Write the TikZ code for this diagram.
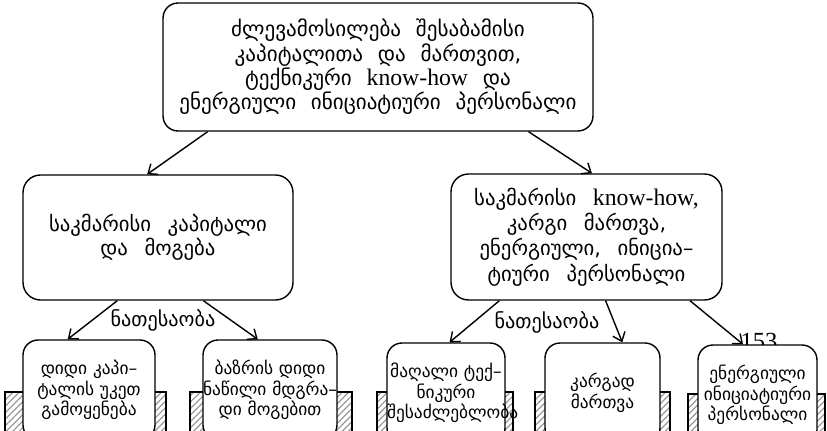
\documentclass[tikz,border=0pt]{standalone}
\usepackage{fontspec}
\setmainfont{Liberation Serif}
\newfontfamily\kafont{DejaVu Sans}
\newcommand\kh[1]{{\rmfamily\fontsize{13.5}{13.5}\selectfont #1}}
\newcommand\widesp[1]{\spaceskip #1em plus 0.1em\relax}
\usetikzlibrary{arrows.meta,calc,patterns.meta}

\begin{document}
\begin{tikzpicture}[x=0.02cm,y=-0.02cm,>={Straight Barb[length=1.6mm,width=2.6mm]},line width=0.8pt,
   block/.style={draw,rounded corners=3.5mm,fill=white,align=center,inner xsep=1pt},
   leaf/.style={block,rounded corners=3mm,minimum height=2cm,inner xsep=0pt,
     font=\kafont\fontsize{9.9}{11.8}\selectfont\widesp{0.4}},
   kin/.style={font=\kafont\fontsize{11.5}{13}\selectfont},
   hatch/.style={draw,line width=0.6pt,pattern={Lines[angle=45,distance=2.6pt,line width=0.7pt]},pattern color=gray!80}]
  \useasboundingbox (0,0) rectangle (827,431);
  \clip (0,0) rectangle (827,431);

  % top goal
  \node[block,rounded corners=3mm,minimum width=8.6cm,minimum height=2.56cm,
        font=\kafont\fontsize{12}{12.6}\selectfont\widesp{0.7}] (goal) at (378,67)
    {ძლევამოსილება შესაბამისი\\კაპიტალითა და მართვით,\\ტექნიკური \kh{know-how} და\\ენერგიული ინიციატიური პერსონალი};

  % the two means
  \node[block,minimum width=5.4cm,minimum height=2.5cm,
        font=\kafont\fontsize{11.8}{13.5}\selectfont\widesp{0.8}] (capital) at (158,237.5)
    {საკმარისი კაპიტალი\\და მოგება};
  \node[block,minimum width=5.42cm,minimum height=2.52cm,
        font=\kafont\fontsize{11.8}{14.5}\selectfont\widesp{0.8}] (knowhow) at (586.5,237)
    {საკმარისი \kh{know-how,}\\კარგი მართვა,\\ენერგიული, ინიცია–\\ტიური პერსონალი};

  \node[kin] (kinL) at (163,320) {ნათესაობა};
  \node[kin] (kinR) at (547,322) {ნათესაობა};
  \node[font=\fontsize{14}{14}\selectfont] (pageno) at (759,341) {153};

  % hatched pillars under the leaves
  \draw[hatch] (5,392) rectangle (166,440);
  \draw[hatch] (190,392) rectangle (352,440);
  \draw[hatch] (377,392) rectangle (513,440);
  \draw[hatch] (535,392) rectangle (670,440);
  \draw[hatch] (688,394) rectangle (825,440);

  % leaves
  \node[leaf,text width=2.64cm] (bigcap) at (89,390) {დიდი კაპი–\\ტალის უკეთ\\გამოყენება};
  \node[leaf,text width=2.68cm] (share) at (270,390) {ბაზრის დიდი\\\mbox{ნაწილი მდგრა–}\\დი მოგებით};
  \node[leaf,text width=2.36cm] (tech) at (446,393) {მაღალი ტექ–\\ნიკური\\შესაძლებლობა};
  \node[leaf,text width=2.3cm] (manage) at (602.5,393) {კარგად\\მართვა};
  \node[leaf,text width=2.38cm] (staff) at (757.5,395) {ენერგიული\\ინიციატიური\\პერსონალი};

  \draw[->] ($(goal.south west)!0.105!(goal.south east)$) -- ($(capital.north west)!0.46!(capital.north east)$);
  \draw[->] ($(goal.south west)!0.849!(goal.south east)$) -- ($(knowhow.north west)!0.52!(knowhow.north east)$);
  \draw[->] ($(capital.south west)!0.35!(capital.south east)$) -- ($(bigcap.north west)!0.34!(bigcap.north east)$);
  \draw[->] ($(capital.south west)!0.667!(capital.south east)$) -- ($(share.north west)!0.41!(share.north east)$);
  \draw[->] ($(knowhow.south west)!0.18!(knowhow.south east)$) -- ($(tech.north west)!0.53!(tech.north east)$);
  \draw[->] ($(knowhow.south west)!0.57!(knowhow.south east)$) -- ($(manage.north west)!0.67!(manage.north east)$);
  \draw[->] ($(knowhow.south west)!0.88!(knowhow.south east)$) -- ($(staff.north west)!0.38!(staff.north east)$);
\end{tikzpicture}
\end{document}
